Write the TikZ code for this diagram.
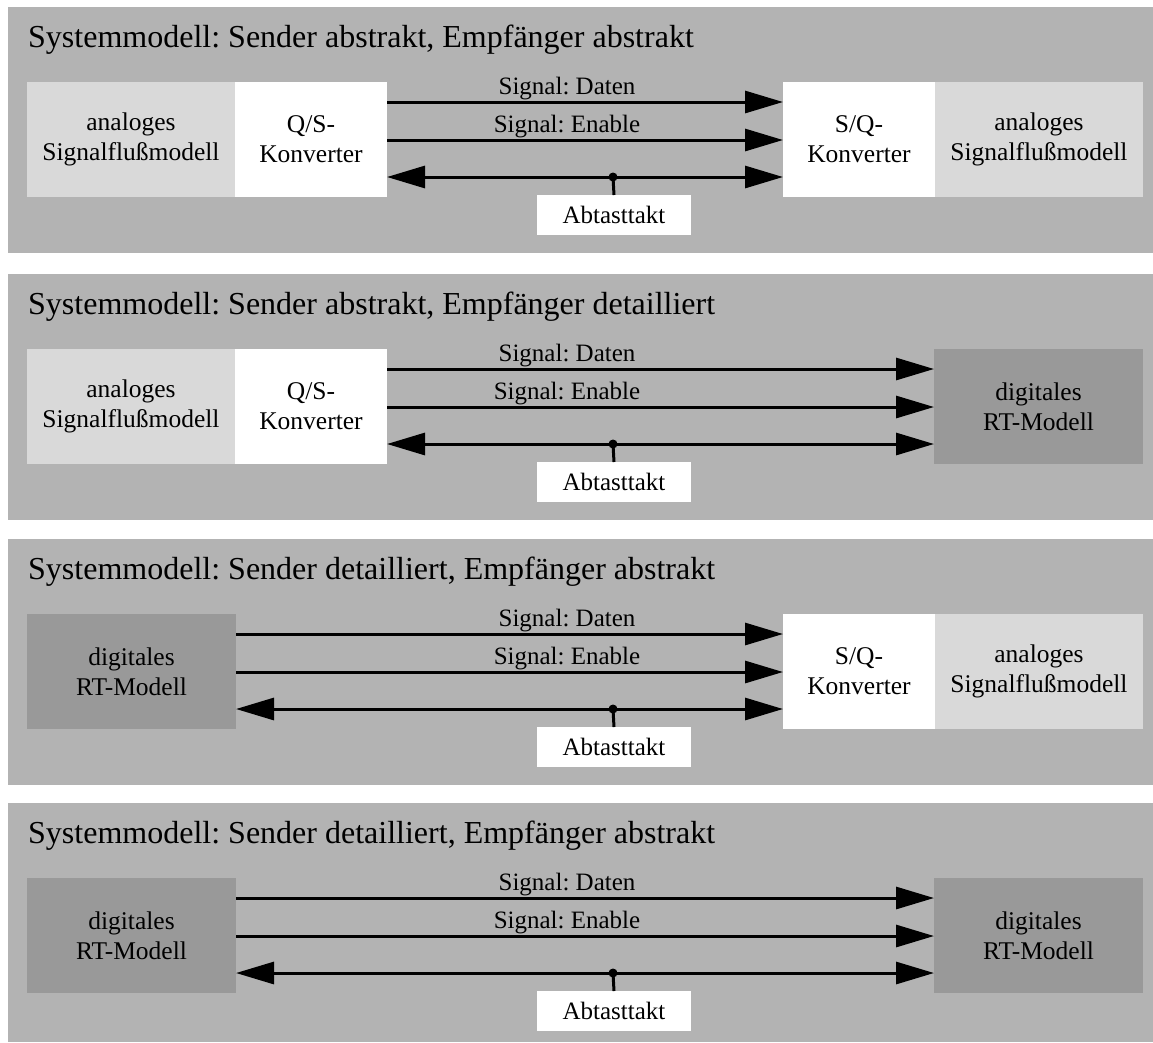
\documentclass[tikz,border=0pt]{standalone}
\usepackage{fontspec}
\setmainfont{Liberation Serif}
\usetikzlibrary{arrows.meta}
\frenchspacing

\definecolor{panelgray}{HTML}{B3B3B3}
\definecolor{analoggray}{HTML}{D9D9D9}
\definecolor{digitalgray}{HTML}{999999}

\tikzset{
  panel/.style={fill=panelgray, anchor=north west, inner sep=0pt, outer sep=0pt,
    minimum width=1145pt, minimum height=246pt},
  ptitle/.style={anchor=base west, inner sep=0pt, font=\fontsize{32}{38}\selectfont},
  blk/.style={anchor=north west, inner sep=0pt, outer sep=0pt, minimum height=115pt,
    align=center, font=\fontsize{25.5}{30}\selectfont},
  analog/.style={blk, fill=analoggray, minimum width=208pt},
  conv/.style={blk, fill=white, minimum width=152pt},
  digital/.style={blk, fill=digitalgray, minimum width=209pt},
  tip/.tip={Triangle[length=38pt,width=22pt]},
  sig/.style={line width=3pt, -tip},
  clk/.style={line width=3pt, tip-tip},
  siglabel/.style={anchor=base, inner sep=0pt, font=\fontsize{25}{30}\selectfont},
  clkbox/.style={fill=white, anchor=north, inner sep=0pt, outer sep=0pt,
    minimum width=154pt, minimum height=40pt, font=\fontsize{25}{30}\selectfont},
  junction/.style={circle, fill=black, inner sep=0pt, minimum size=9pt},
}

% Signal bus between a sender node (#2) and a receiver node (#3), names prefixed by #1
\newcommand\signalbus[3]{%
  \coordinate (#1-r1) at (0,95);
  \coordinate (#1-r2) at (0,133);
  \coordinate (#1-r3) at (0,170);
  \draw[sig] (#2.east |- #1-r1) -- (#3.west |- #1-r1);
  \draw[sig] (#2.east |- #1-r2) -- (#3.west |- #1-r2);
  \draw[clk] (#2.east |- #1-r3) -- (#3.west |- #1-r3);
  \node[siglabel] (#1-ld) at (567,87) {Signal: Daten};
  \node[siglabel] (#1-le) at (567,125) {Signal: Enable};
  \node[junction] (#1-j) at (613,170) {};
  \node[clkbox] (#1-clk) at (614,188) {Abtasttakt};
  \draw[line width=3pt] (#1-j.center) -- (#1-clk.north);
}

\begin{document}
\begin{tikzpicture}[x=1pt, y=-1pt]
\useasboundingbox (0,0) rectangle (1153,1042);

% Sender abstract, receiver abstract
\begin{scope}[shift={(0,7)}]
  \node[panel] (a-bg) at (8,0) {};
  \node[ptitle] (a-title) at (28,40) {Systemmodell: Sender abstrakt, Empfänger abstrakt};
  \node[analog] (a-src) at (27,75) {analoges\\Signalflußmodell};
  \node[conv] (a-tx) at (235,75) {Q/S-\\Konverter};
  \node[conv] (a-rx) at (783,75) {S/Q-\\Konverter};
  \node[analog] (a-snk) at (935,75) {analoges\\Signalflußmodell};
  \signalbus{a}{a-tx}{a-rx}
\end{scope}

% Sender abstract, receiver detailed
\begin{scope}[shift={(0,274)}]
  \node[panel] (b-bg) at (8,0) {};
  \node[ptitle] (b-title) at (28,40) {Systemmodell: Sender abstrakt, Empfänger detailliert};
  \node[analog] (b-src) at (27,75) {analoges\\Signalflußmodell};
  \node[conv] (b-tx) at (235,75) {Q/S-\\Konverter};
  \node[digital] (b-rx) at (934,75) {digitales\\RT-Modell};
  \signalbus{b}{b-tx}{b-rx}
\end{scope}

% Sender detailed, receiver abstract
\begin{scope}[shift={(0,539)}]
  \node[panel] (c-bg) at (8,0) {};
  \node[ptitle] (c-title) at (28,40) {Systemmodell: Sender detailliert, Empfänger abstrakt};
  \node[digital] (c-tx) at (27,75) {digitales\\RT-Modell};
  \node[conv] (c-rx) at (783,75) {S/Q-\\Konverter};
  \node[analog] (c-snk) at (935,75) {analoges\\Signalflußmodell};
  \signalbus{c}{c-tx}{c-rx}
\end{scope}

% Sender detailed, receiver detailed
\begin{scope}[shift={(0,803)}]
  \node[panel, minimum height=239pt] (d-bg) at (8,0) {};
  \node[ptitle] (d-title) at (28,40) {Systemmodell: Sender detailliert, Empfänger abstrakt};
  \node[digital] (d-tx) at (27,75) {digitales\\RT-Modell};
  \node[digital] (d-rx) at (934,75) {digitales\\RT-Modell};
  \signalbus{d}{d-tx}{d-rx}
\end{scope}
\end{tikzpicture}
\end{document}
